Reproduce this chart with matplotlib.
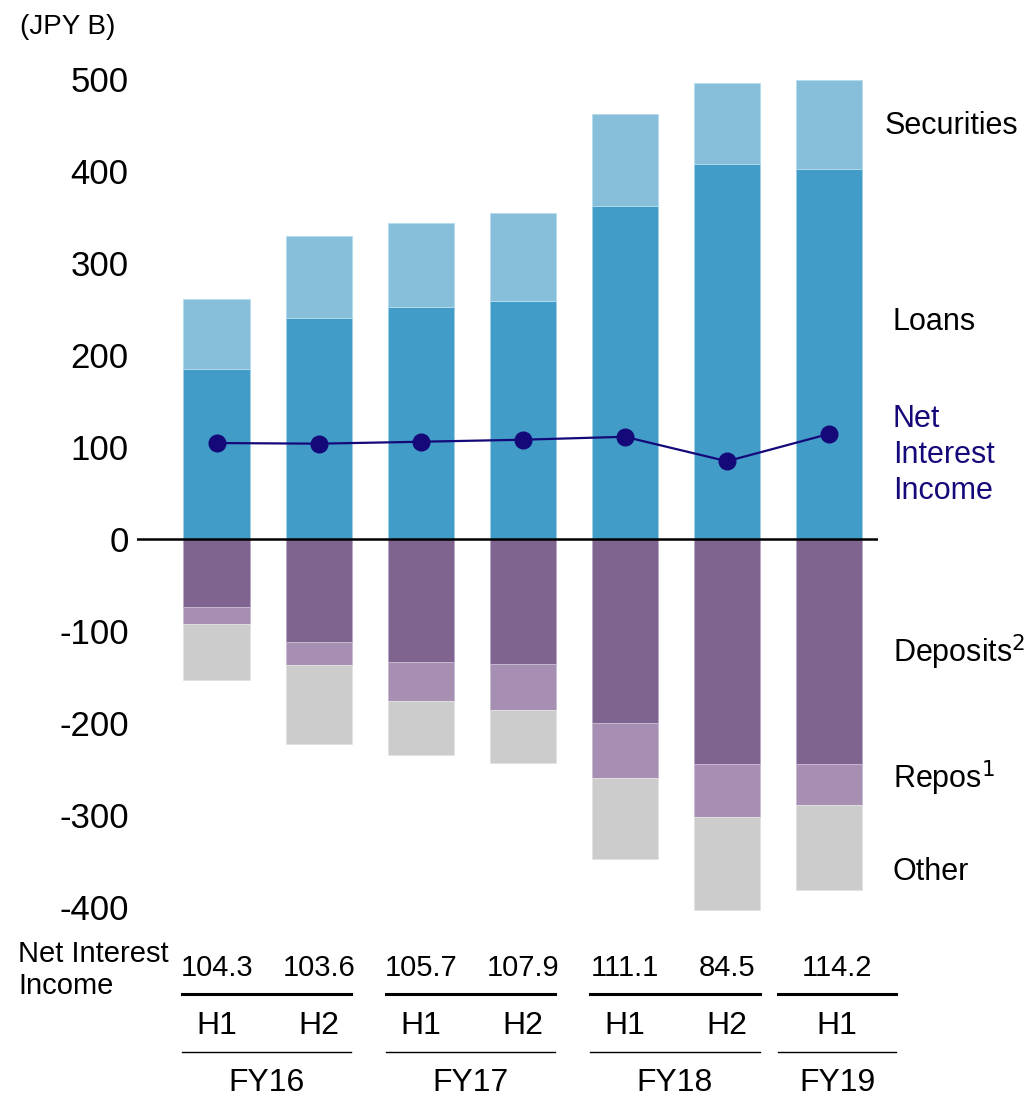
import numpy as np
import matplotlib
matplotlib.use("Agg")
from matplotlib import pyplot as plt
import matplotlib.transforms as mtransforms
from matplotlib.ticker import FuncFormatter

plt.rcParams['font.family'] = ['Liberation Sans', 'DejaVu Sans']

# half-year periods
periods = ['H1', 'H2', 'H1', 'H2', 'H1', 'H2', 'H1']
years = ['FY16', 'FY17', 'FY18', 'FY19']
year_groups = [(0, 1), (2, 3), (4, 5), (6, 6)]

# income side (JPY B)
loans = [185, 240, 252, 259, 362, 408, 402]
securities = [76, 89, 91, 95, 100, 88, 97]
# expense side (JPY B)
deposits = [-74, -112, -134, -136, -200, -245, -245]
repos = [-18, -25, -42, -50, -60, -57, -44]
other = [-61, -86, -59, -57, -88, -101, -93]

nii = [104.3, 103.6, 105.7, 107.9, 111.1, 84.5, 114.2]

c_sec = '#87bfda'
c_loan = '#419cc8'
c_dep = '#7f648f'
c_repo = '#a68fb3'
c_oth = '#cccccc'
c_nii = '#15097a'

fig = plt.figure(figsize=(10.25, 10.96), dpi=100)
ax = fig.add_axes([0.1337, 0.1557, 0.7229, 0.789])

x = np.arange(len(periods))
w = 0.65
ax.bar(x, loans, w, color=c_loan, edgecolor='#9fd0e6', linewidth=0.6)
ax.bar(x, securities, w, bottom=loans, color=c_sec, edgecolor='#b5dcee', linewidth=0.6)
ax.bar(x, deposits, w, color=c_dep, edgecolor='#b9a8c6', linewidth=0.6)
ax.bar(x, repos, w, bottom=deposits, color=c_repo, edgecolor='#c8bcd2', linewidth=0.6)
rd = np.array(deposits) + np.array(repos)
ax.bar(x, other, w, bottom=rd, color=c_oth, edgecolor='#e2e2e2', linewidth=0.6)

ax.axhline(0, color='black', linewidth=1.8)
ax.plot(x, nii, color=c_nii, linewidth=1.6, marker='o', markersize=12, zorder=5)

ax.set_xlim(-0.78, 6.48)
ax.set_ylim(-420, 520)
ax.set_yticks(np.arange(-400, 501, 100))
ax.yaxis.set_major_formatter(FuncFormatter(lambda v, p: f'{int(v)}'))
ax.tick_params(axis='y', length=0, labelsize=25, pad=6)
ax.set_xticks([])
for s in ax.spines.values():
    s.set_visible(False)

fig.text(0.02, 0.975, '(JPY B)', fontsize=20, ha='left', va='center')

# series labels on the right
lab_x = 0.871
fig.text(0.863, 0.885, 'Securities', fontsize=22, va='center')
fig.text(lab_x, 0.706, 'Loans', fontsize=22, va='center')
fig.text(lab_x, 0.585, 'Net\nInterest\nIncome', fontsize=22, va='center',
         color=c_nii, linespacing=1.25)
fig.text(lab_x, 0.405, 'Deposits$^2$', fontsize=22, va='center')
fig.text(lab_x, 0.290, 'Repos$^1$', fontsize=22, va='center')
fig.text(lab_x, 0.204, 'Other', fontsize=22, va='center')

# table below the chart
trans = mtransforms.blended_transform_factory(ax.transData, fig.transFigure)
fig.text(0.018, 0.115, 'Net Interest\nIncome', fontsize=21, va='center',
         linespacing=1.2)

y_val = 1 - 968 / 1096
y_line1 = 1 - 994 / 1096
y_half = 1 - 1026 / 1096
y_line2 = 1 - 1052 / 1096
y_year = 1 - 1083 / 1096

for i in range(len(periods)):
    xc = i if i < 6 else i + 0.08
    ax.text(xc, y_val, f'{nii[i]:.1f}', transform=trans, fontsize=21,
            ha='center', va='center')
    ax.text(xc, y_half, periods[i], transform=trans, fontsize=23,
            ha='center', va='center')

for yr, (a, b) in zip(years, year_groups):
    if a == b:
        x0, x1 = a - 0.5, a + 0.66
    else:
        x0, x1 = a - 0.34, b + 0.32
    ax.plot([x0, x1], [y_line1, y_line1], transform=trans, color='black',
            linewidth=2.2, clip_on=False)
    ax.plot([x0, x1], [y_line2, y_line2], transform=trans, color='black',
            linewidth=1.0, clip_on=False)
    ax.text((x0 + x1) / 2, y_year, yr, transform=trans, fontsize=23,
            ha='center', va='center')

fig.savefig('out.png', dpi=100)
